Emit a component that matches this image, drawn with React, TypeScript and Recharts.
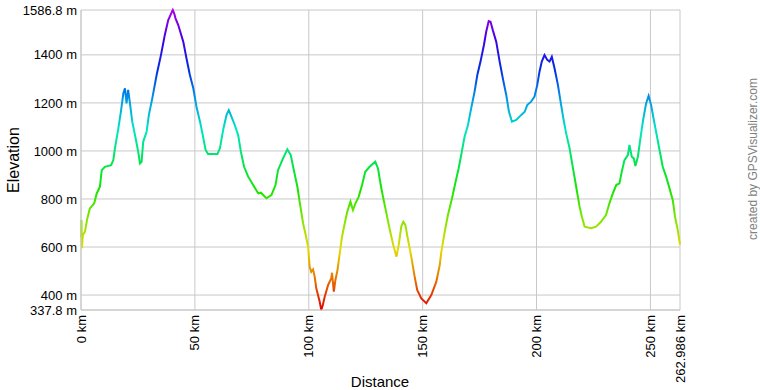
import { CartesianGrid, Line, LineChart, XAxis, YAxis } from "recharts";

// distance along the track (km) and elevation (m)
const distanceKm = [
  0, 0.2, 0.4, 0.8, 1.75, 2.8, 3.9, 5.8, 6.9, 8.3, 9.1, 10.5, 13.2, 14.2, 14.9, 16.4, 17.5, 18.6,
  19.3, 20.0, 20.7, 21.5, 22.5, 24.0, 25.1, 25.9, 26.6, 27.3, 28.8, 29.8, 31.3, 33.2, 35.1, 36.8,
  38.3, 39.7, 40.3, 41.0, 41.5, 42.7, 44.9, 46.3, 47.8, 49.3, 50.7, 52.4, 53.6, 54.7, 55.8, 59.9,
  61.0, 62.4, 63.9, 64.9, 66.1, 67.5, 69.0, 70.2, 71.6, 73.4, 75.6, 77.8, 79.0, 81.4, 83.6, 85.4,
  86.5, 88.7, 90.6, 92.1, 93.6, 95.0, 96.1, 97.5, 98.5, 99.7, 100.4, 101.1, 101.9, 102.6, 103.3,
  104.8, 105.5, 106.2, 107.0, 108.5, 109.9, 110.2, 111.0, 111.7, 112.6, 113.6, 114.6, 115.8, 116.9,
  118.3, 119.4, 120.5, 121.9, 123.4, 124.8, 126.7, 129.2, 130.4, 131.6, 132.6, 134.1, 135.6, 137.1,
  138.5, 139.6, 140.6, 141.5, 142.4, 143.6, 145.0, 146.5, 147.6, 149.4, 151.6, 153.8, 156.0, 157.5,
  158.2, 159.7, 161.1, 162.9, 164.3, 165.8, 167.2, 168.4, 169.9, 171.3, 172.8, 174.0, 175.4, 176.9,
  177.9, 179.0, 179.8, 180.8, 182.3, 183.8, 185.2, 186.7, 187.9, 189.2, 191.1, 193.3, 194.8, 195.9,
  197.6, 199.1, 200.3, 201.3, 202.3, 203.5, 204.7, 205.7, 206.7, 207.9, 209.4, 210.8, 211.9, 213.0,
  214.5, 215.9, 217.4, 218.9, 219.9, 221.1, 224.0, 226.1, 228.3, 230.5, 232.0, 233.5, 235.0, 236.4,
  237.4, 238.6, 240.1, 240.8, 241.8, 242.7, 243.4, 244.5, 245.6, 246.8, 248.1, 249.2, 250.3, 251.5,
  252.9, 254.0, 255.4, 256.9, 258.4, 259.8, 260.8, 262.0, 262.986,
];

const elevationM = [
  640, 712, 595, 650, 664, 720, 761, 782, 823, 851, 920, 934, 941, 962, 1011, 1094, 1163, 1240,
  1261, 1198, 1254, 1198, 1122, 1052, 997, 948, 955, 1038, 1080, 1150, 1219, 1316, 1399, 1483,
  1545, 1575, 1586.8, 1570, 1552, 1524, 1455, 1386, 1316, 1261, 1184, 1115, 1059, 1004, 987, 987,
  1011, 1087, 1150, 1170, 1142, 1108, 1066, 997, 934, 893, 858, 823, 826, 803, 816, 858,
  920, 969, 1007, 983, 913, 851, 782, 699, 657, 601, 518, 497, 507, 476, 428,
  372, 337.8, 360, 393, 442, 470, 493, 414, 463, 504, 574, 643, 699, 747,
  789, 754, 782, 809, 858, 913, 934, 955, 927, 858, 809, 740, 671, 608,
  560, 615, 685, 705, 692, 629, 560, 476, 421, 386, 366, 400, 456, 525,
  580, 664, 733, 803, 865, 927, 997, 1059, 1108, 1177, 1247, 1316, 1372, 1441,
  1496, 1541, 1538, 1503, 1455, 1372, 1302, 1233, 1163, 1122, 1129, 1150, 1163, 1191,
  1205, 1226, 1274, 1330, 1372, 1399, 1379, 1372, 1392, 1344, 1274, 1191, 1129, 1073,
  1011, 934, 851, 768, 726, 685, 678, 685, 705, 733, 782, 823, 858, 865,
  913, 962, 983, 1025, 976, 969, 937, 976, 1052, 1129, 1198, 1229, 1191, 1129,
  1059, 1004, 934, 893, 844, 796, 726, 671, 610,
];

const xTicks = [0, 50, 100, 150, 200, 250, 262.986];
const yTicks = [337.8, 400, 600, 800, 1000, 1200, 1400, 1586.8];

const data = distanceKm.map((km, i) => ({ km, ele: elevationM[i] }));

const FONT = '"Liberation Sans", Arial, Helvetica, sans-serif';

// red at the lowest point, through yellow/green/cyan/blue, to purple at the top
const gradientStops = Array.from({ length: 11 }, (_, i) => ({
  offset: i / 10,
  color: `hsl(${i * 28.5}, 100%, 45%)`,
}));

function DistanceTick({ x, y, payload }: any) {
  return (
    <text
      x={x}
      y={y}
      transform={`rotate(-90 ${x} ${y})`}
      textAnchor="end"
      dominantBaseline="central"
      fontSize={13}
      fontFamily={FONT}
      fill="#000"
    >
      {`${payload.value} km`}
    </text>
  );
}

export default function App() {
  return (
    <div style={{ position: "absolute", left: 0, top: 0, width: 760, height: 390, background: "#fff", fontFamily: FONT }}>
      <LineChart width={760} height={390} data={data} margin={{ top: 10, right: 80, bottom: 0, left: 0 }}>
        <defs>
          <linearGradient id="elevGrad" x1="0" y1="1" x2="0" y2="0">
            {gradientStops.map((s) => (
              <stop key={s.offset} offset={s.offset} stopColor={s.color} />
            ))}
          </linearGradient>
        </defs>
        <CartesianGrid stroke="#c8c8c8" />
        <XAxis
          dataKey="km"
          type="number"
          domain={[0, 262.986]}
          ticks={xTicks}
          interval={0}
          height={80}
          tickSize={0}
          tickMargin={5}
          axisLine={{ stroke: "#c8c8c8" }}
          tickLine={false}
          tick={<DistanceTick />}
        />
        <YAxis
          type="number"
          domain={[337.8, 1586.8]}
          ticks={yTicks}
          interval={0}
          width={81}
          tickSize={0}
          tickMargin={4}
          axisLine={{ stroke: "#c8c8c8" }}
          tickLine={false}
          tick={{ fontSize: 13, fill: "#000", fontFamily: FONT }}
          tickFormatter={(v) => `${v} m`}
        />
        <Line
          type="linear"
          dataKey="ele"
          stroke="url(#elevGrad)"
          strokeWidth={2}
          dot={false}
          isAnimationActive={false}
        />
      </LineChart>
      <div
        style={{
          position: "absolute",
          left: 14,
          top: 160,
          transform: "translate(-50%, -50%) rotate(-90deg)",
          fontSize: 16,
          lineHeight: "16px",
          whiteSpace: "nowrap",
          color: "#000",
        }}
      >
        Elevation
      </div>
      <div
        style={{
          position: "absolute",
          left: 380,
          top: 374,
          transform: "translateX(-50%)",
          fontSize: 15,
          lineHeight: "15px",
          whiteSpace: "nowrap",
          color: "#000",
        }}
      >
        Distance
      </div>
      <div
        style={{
          position: "absolute",
          left: 753,
          top: 159,
          transform: "translate(-50%, -50%) rotate(-90deg)",
          fontSize: 12,
          lineHeight: "12px",
          whiteSpace: "nowrap",
          color: "#808080",
        }}
      >
        created by GPSVisualizer.com
      </div>
    </div>
  );
}
